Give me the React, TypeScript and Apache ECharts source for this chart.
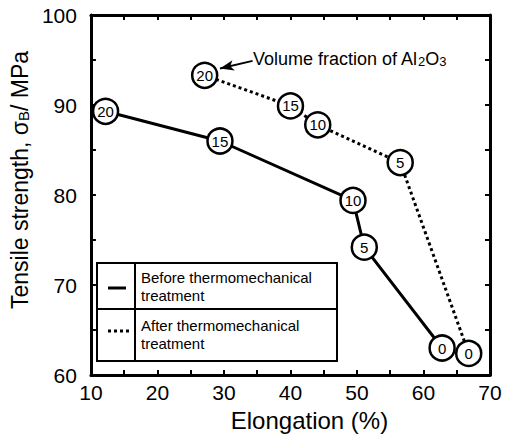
import React, { useEffect, useRef } from "react";
import * as echarts from "echarts";

const fractions = [20, 15, 10, 5, 0];
const elongationBefore = [12.2, 29.4, 49.4, 51.1, 62.8];
const strengthBefore = [89.3, 86.0, 79.4, 74.2, 63.0];
const elongationAfter = [27.1, 40.0, 44.1, 56.5, 66.8];
const strengthAfter = [93.3, 89.9, 87.8, 83.6, 62.4];
const xRange = [10, 70];
const yRange = [60, 100];
const arrowFrom = [34.3, 94.9];
const arrowTo = [29.4, 94.05];

const FONT = "'Liberation Sans', Arial, Helvetica, sans-serif";

function axis(min: number, max: number, showLabels: boolean, extra: any = {}) {
  return {
    type: "value",
    min,
    max,
    interval: 10,
    axisLine: { show: true, onZero: false, lineStyle: { color: "#000", width: 3 } },
    axisTick: { show: true, inside: true, length: 5, lineStyle: { color: "#000", width: 2 } },
    minorTick: { show: true, splitNumber: 2, length: 5, lineStyle: { color: "#000", width: 2 } },
    splitLine: { show: false },
    minorSplitLine: { show: false },
    axisLabel: { show: showLabels, color: "#000", fontSize: 21, fontFamily: FONT },
    ...extra,
  };
}

export default function App() {
  const ref = useRef<HTMLDivElement>(null);
  useEffect(() => {
    if (!ref.current) return;
    const chart = echarts.init(ref.current, null, { renderer: "svg" });
    const markerLabel = {
      show: true,
      position: "inside",
      color: "#000",
      fontSize: 15,
      fontFamily: FONT,
      formatter: (p: any) => String(fractions[p.dataIndex]),
    };
    const itemStyle = { color: "#fff", borderColor: "#000", borderWidth: 2.5 };
    const legendText = (text: string, y: number) => ({
      type: "text",
      style: { text, x: 141, y, font: `15px ${FONT}`, fill: "#000", verticalAlign: "middle" },
    });
    chart.setOption({
      animation: false,
      backgroundColor: "#fff",
      grid: { left: 88, right: 19, top: 15, bottom: 62 },
      xAxis: [
        axis(xRange[0], xRange[1], true, {
          position: "bottom",
          axisLabel: { show: true, color: "#000", fontSize: 21, fontFamily: FONT, margin: 7 },
          name: "Elongation (%)",
          nameLocation: "middle",
          nameGap: 33,
          nameTextStyle: { color: "#000", fontSize: 24, fontFamily: FONT, padding: [0, 0, 0, 38] },
        }),
        axis(xRange[0], xRange[1], false, { position: "top" }),
      ],
      yAxis: [
        axis(yRange[0], yRange[1], true, {
          position: "left",
          axisLabel: { show: true, color: "#000", fontSize: 21, fontFamily: FONT, margin: 14 },
          name: "Tensile strength, σ{sub|B}/ MPa",
          nameLocation: "middle",
          nameGap: 52,
          nameTextStyle: {
            color: "#000",
            fontSize: 23,
            fontFamily: FONT,
            padding: [0, 0, 0, 30],
            rich: { sub: { fontSize: 15, fontFamily: FONT, color: "#000", verticalAlign: "bottom", padding: [6, 0, 0, 0] } },
          },
        }),
        axis(yRange[0], yRange[1], false, { position: "right" }),
      ],
      series: [
        {
          type: "line",
          name: "Before thermomechanical treatment",
          data: elongationBefore.map((x, i) => [x, strengthBefore[i]]),
          symbol: "circle",
          symbolSize: 25,
          showAllSymbol: true,
          lineStyle: { color: "#000", width: 3, type: "solid" },
          itemStyle,
          label: markerLabel,
          z: 3,
        },
        {
          type: "line",
          name: "After thermomechanical treatment",
          data: elongationAfter.map((x, i) => [x, strengthAfter[i]]),
          symbol: "circle",
          symbolSize: 25,
          showAllSymbol: true,
          lineStyle: { color: "#000", width: 3, type: [3, 3] },
          itemStyle,
          label: markerLabel,
          z: 3,
          markLine: {
            silent: true,
            symbol: ["none", "arrow"],
            symbolSize: [8, 14],
            label: { show: false },
            lineStyle: { color: "#000", width: 2, type: "solid" },
            data: [[{ coord: arrowFrom }, { coord: arrowTo }]],
          },
        },
      ],
      graphic: [
        {
          type: "text",
          left: 253,
          top: 50,
          style: {
            text: "Volume fraction of Al{s|2}O{s|3}",
            font: `18px ${FONT}`,
            fill: "#000",
            rich: { s: { fontSize: 13, fontFamily: FONT, fill: "#000", verticalAlign: "bottom", padding: [5, 0, 0, 0] } },
          },
        },
        {
          type: "group",
          children: [
            { type: "rect", shape: { x: 97, y: 263, width: 240, height: 98 }, style: { fill: "#fff", stroke: "#000", lineWidth: 2 } },
            { type: "line", shape: { x1: 135, y1: 263, x2: 135, y2: 361 }, style: { stroke: "#000", lineWidth: 2 } },
            { type: "line", shape: { x1: 97, y1: 309, x2: 337, y2: 309 }, style: { stroke: "#000", lineWidth: 2 } },
            { type: "line", shape: { x1: 108, y1: 288, x2: 126, y2: 288 }, style: { stroke: "#000", lineWidth: 3 } },
            { type: "line", shape: { x1: 108, y1: 331, x2: 130, y2: 331 }, style: { stroke: "#000", lineWidth: 3, lineDash: [3, 3] } },
            legendText("Before thermomechanical", 277),
            legendText("treatment", 295),
            legendText("After thermomechanical", 325),
            legendText("treatment", 343),
          ],
        },
      ],
    });
    return () => chart.dispose();
  }, []);
  return <div ref={ref} style={{ position: "absolute", left: 0, top: 0, width: 509, height: 437 }} />;
}
